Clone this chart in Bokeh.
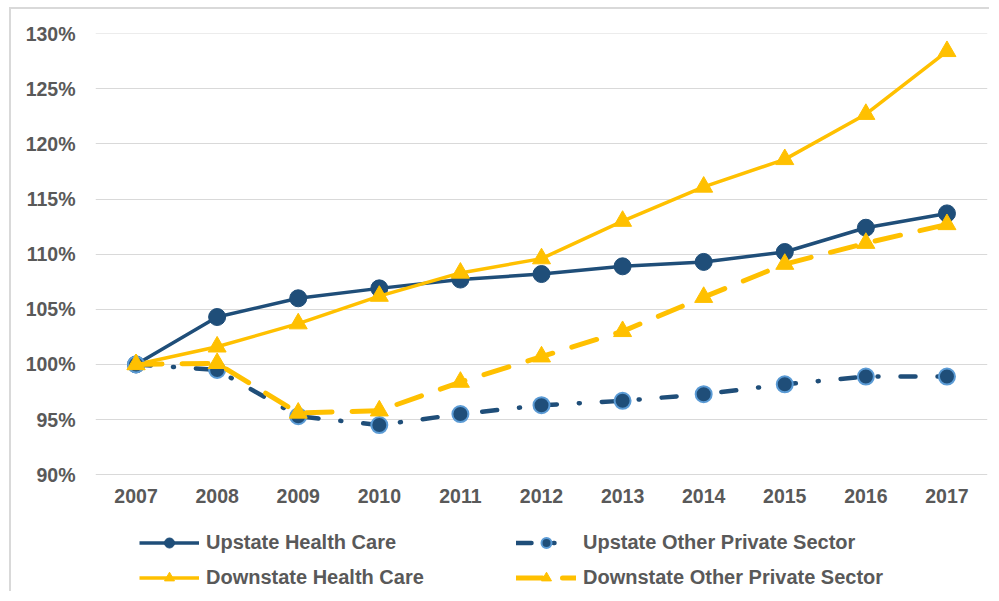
from bokeh.plotting import figure
from bokeh.models import FactorRange, Range1d, FixedTicker, PrintfTickFormatter, Legend, LegendItem
from bokeh.embed import file_html
from bokeh.resources import INLINE

years = ["2007", "2008", "2009", "2010", "2011", "2012", "2013", "2014", "2015", "2016", "2017"]
upstate_hc = [100.0, 104.3, 106.0, 106.9, 107.7, 108.2, 108.9, 109.3, 110.2, 112.4, 113.7]
downstate_hc = [100.0, 101.6, 103.7, 106.2, 108.3, 109.6, 113.0, 116.1, 118.6, 122.7, 128.4]
upstate_other = [100.0, 99.5, 95.3, 94.5, 95.5, 96.3, 96.7, 97.3, 98.2, 98.9, 98.9]
downstate_other = [100.0, 100.1, 95.6, 95.8, 98.4, 100.7, 103.0, 106.1, 109.1, 111.0, 112.7]
y_ticks = [90, 95, 100, 105, 110, 115, 120, 125, 130]

NAVY = "#1F4E79"
GOLD = "#FFC000"
LIGHTBLUE = "#5B9BD5"
TEXT = "#595959"
FONT = "Liberation Sans"
X_LABEL_LEVEL = 87.4   # where the category labels sit (below the 90% line)

p = figure(width=980, height=584, output_backend="svg", toolbar_location=None,
           x_range=FactorRange(factors=years, range_padding=0),
           y_range=Range1d(79.22, 130.02), x_axis_location="above",
           min_border_left=84, min_border_right=4, min_border_top=24, min_border_bottom=0)
p.outline_line_color = None
p.background_fill_color = "white"
p.border_fill_color = "white"
p.margin = (7, 0, 0, 9)
p.styles = {"border-left": "2px solid #d9d9d9", "border-top": "2px solid #d9d9d9"}

p.xgrid.grid_line_color = None
p.ygrid.grid_line_color = "#d9d9d9"
p.ygrid.grid_line_width = 1.2
p.yaxis.ticker = FixedTicker(ticks=y_ticks)
p.yaxis.formatter = PrintfTickFormatter(format="%d%%")
for ax in (p.xaxis[0], p.yaxis[0]):
    ax.axis_line_color = None
    ax.major_tick_line_color = None
    ax.minor_tick_line_color = None
    ax.major_tick_out = 0
    ax.major_tick_in = 0
    ax.major_label_text_font = FONT
    ax.major_label_text_font_style = "bold"
    ax.major_label_text_font_size = "19.5px"
    ax.major_label_text_color = TEXT
p.yaxis.major_label_standoff = 20
p.xaxis.major_label_standoff = 0
p.xaxis.fixed_location = X_LABEL_LEVEL

r1l = p.line(years, upstate_hc, line_color=NAVY, line_width=3.5)
r1m = p.scatter(years, upstate_hc, marker="circle", size=17, fill_color=NAVY, line_color=NAVY)
r2l = p.line(years, downstate_hc, line_color=GOLD, line_width=3.5)
r2m = p.scatter(years, downstate_hc, marker="triangle", size=18, fill_color=GOLD, line_color=GOLD)
r3l = p.line(years, upstate_other, line_color=NAVY, line_width=4.5, line_dash="15 22 1 22", line_cap="round")
r3m = p.scatter(years, upstate_other, marker="circle", size=16, fill_color=NAVY, line_color=LIGHTBLUE, line_width=2)
r4l = p.line(years, downstate_other, line_color=GOLD, line_width=5, line_dash="26 20", line_cap="round")
r4m = p.scatter(years, downstate_other, marker="triangle", size=18, fill_color=GOLD, line_color=GOLD)

legend = Legend(items=[
    LegendItem(label="Upstate Health Care", renderers=[r1l, r1m]),
    LegendItem(label="Downstate Health Care", renderers=[r2l, r2m]),
    LegendItem(label="Upstate Other Private Sector", renderers=[r3l, r3m]),
    LegendItem(label="Downstate Other Private Sector", renderers=[r4l, r4m]),
], ncols=2, location=(44, 3))
legend.border_line_color = None
legend.background_fill_alpha = 0
legend.padding = 2
legend.margin = 0
legend.glyph_width = 60
legend.glyph_height = 25
legend.label_height = 25
legend.label_width = 300
legend.label_standoff = 7
legend.spacing = 10
legend.label_text_font = FONT
legend.label_text_font_style = "bold"
legend.label_text_font_size = "20px"
legend.label_text_color = TEXT
p.add_layout(legend, "center")

open("out.html", "w").write(file_html(p, INLINE))
